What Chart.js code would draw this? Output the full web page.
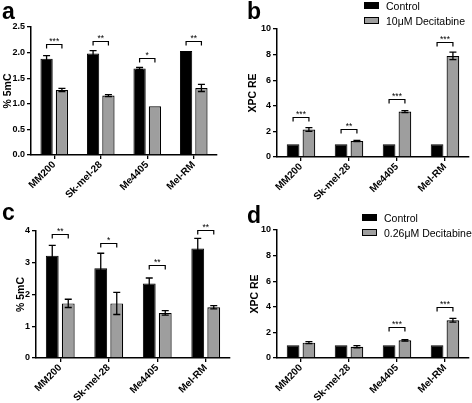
<!DOCTYPE html>
<html>
<head>
<meta charset="utf-8">
<script src="https://cdn.jsdelivr.net/npm/chart.js@4.4.1/dist/chart.umd.min.js"></script>
<style>
  body { margin: 0; background: #fff; width: 472px; height: 403px; position: relative; overflow: hidden;
         font-family: "Liberation Sans", Arial, sans-serif; }
  canvas { position: absolute; }
  .letter { position: absolute; font-weight: bold; font-size: 23px; line-height: 1; }
  .legend { position: absolute; font-size: 10.5px; line-height: 1; }
  .legend div { position: relative; height: 15px; white-space: nowrap; }
  .legend span.sw { position: absolute; left: 0; top: 1px; width: 15px; height: 7px; box-sizing: border-box; }
  .legend span.tx { position: absolute; left: 22px; top: 0; }
</style>
</head>
<body>
<canvas id="chart-a" width="236" height="200" style="left:0;top:0"></canvas>
<canvas id="chart-b" width="236" height="200" style="left:236px;top:0"></canvas>
<canvas id="chart-c" width="236" height="203" style="left:0;top:200px"></canvas>
<canvas id="chart-d" width="236" height="203" style="left:236px;top:200px"></canvas>

<div class="letter" style="left:2px;top:0">a</div>
<div class="letter" style="left:247px;top:0">b</div>
<div class="letter" style="left:2px;top:201px">c</div>
<div class="letter" style="left:247px;top:204px">d</div>

<div class="legend" style="left:364px;top:1px">
  <div><span class="sw" style="background:#000"></span><span class="tx">Control</span></div>
  <div><span class="sw" style="background:#9e9e9e;border:1px solid #000"></span><span class="tx">10μM Decitabine</span></div>
</div>
<div class="legend" style="left:362px;top:213px">
  <div><span class="sw" style="background:#000"></span><span class="tx">Control</span></div>
  <div><span class="sw" style="background:#9e9e9e;border:1px solid #000"></span><span class="tx">0.26μM Decitabine</span></div>
</div>

<script>
/* ─── Data ─────────────────────────────────────────────────────────── */
const cellLines = ['MM200', 'Sk-mel-28', 'Me4405', 'Mel-RM'];

// a — % 5mC, 10µM
const aControl    = [1.88, 1.98, 1.69, 2.03];
const aControlErr = [0.06, 0.06, 0.02, 0.0];
const aDrug       = [1.27, 1.16, 0.95, 1.31];
const aDrugErr    = [0.03, 0.02, 0.0, 0.07];
const aSig        = ['***', '**', '*', '**'];
const aBracket    = [2.17, 2.23, 1.90, 2.23];
const aTicks      = { min: 0, max: 2.5, step: 0.5 };

// b — XPC RE, 10µM
const bControl    = [1, 1, 1, 1];
const bControlErr = [0, 0, 0, 0];
const bDrug       = [2.15, 1.25, 3.55, 7.9];
const bDrugErr    = [0.15, 0.05, 0.08, 0.3];
const bSig        = ['***', '**', '***', '***'];
const bBracket    = [3.1, 2.2, 4.5, 9.0];
const bTicks      = { min: 0, max: 10, step: 2 };

// c — % 5mC, 0.26µM
const cControl    = [3.22, 2.83, 2.35, 3.45];
const cControlErr = [0.33, 0.47, 0.17, 0.32];
const cDrug       = [1.72, 1.72, 1.42, 1.60];
const cDrugErr    = [0.13, 0.35, 0.07, 0.05];
const cSig        = ['**', '*', '**', '**'];
const cBracket    = [3.9, 3.62, 2.93, 4.03];
const cTicks      = { min: 0, max: 4, step: 1 };

// d — XPC RE, 0.26µM
const dControl    = [1, 1, 1, 1];
const dControlErr = [0, 0, 0, 0];
const dDrug       = [1.2, 0.88, 1.38, 2.95];
const dDrugErr    = [0.08, 0.08, 0.06, 0.15];
const dSig        = ['', '', '***', '***'];
const dBracket    = [null, null, 2.4, 4.0];
const dTicks      = { min: 0, max: 10, step: 2 };

const FONT = '"Liberation Sans", Arial, sans-serif';
const GREY = '#9e9e9e';

/* ─── Plugins : barres d'erreur + crochets de significativité ───────── */
const errorBars = {
  id: 'errorBars',
  afterDatasetsDraw(chart) {
    const { ctx } = chart;
    const y = chart.scales.y;
    ctx.save();
    ctx.strokeStyle = '#000';
    ctx.lineWidth = 1.3;
    chart.data.datasets.forEach((ds, i) => {
      const meta = chart.getDatasetMeta(i);
      meta.data.forEach((bar, j) => {
        const err = ds.errors[j];
        if (!err) return;
        const v = ds.data[j];
        const top = y.getPixelForValue(v + err);
        const bot = y.getPixelForValue(v - err);
        const half = 3.5;
        ctx.beginPath();
        ctx.moveTo(bar.x, top); ctx.lineTo(bar.x, bot);
        ctx.moveTo(bar.x - half, top); ctx.lineTo(bar.x + half, top);
        ctx.moveTo(bar.x - half, bot); ctx.lineTo(bar.x + half, bot);
        ctx.stroke();
      });
    });
    ctx.restore();
  }
};

const brackets = {
  id: 'brackets',
  afterDatasetsDraw(chart, args, opts) {
    if (!opts.levels) return;
    const { ctx } = chart;
    const y = chart.scales.y;
    const m0 = chart.getDatasetMeta(0), m1 = chart.getDatasetMeta(1);
    ctx.save();
    ctx.strokeStyle = '#000';
    ctx.fillStyle = '#000';
    ctx.lineWidth = 1.2;
    ctx.font = '8.5px ' + FONT;
    ctx.textAlign = 'center';
    ctx.textBaseline = 'bottom';
    opts.levels.forEach((lvl, j) => {
      if (lvl == null) return;
      const x0 = m0.data[j].x, x1 = m1.data[j].x;
      const py = Math.round(y.getPixelForValue(lvl)) + 0.5;
      ctx.beginPath();
      ctx.moveTo(x0, py + 4); ctx.lineTo(x0, py); ctx.lineTo(x1, py); ctx.lineTo(x1, py + 4);
      ctx.stroke();
      ctx.fillText(opts.labels[j], (x0 + x1) / 2, py + 1);
    });
    ctx.restore();
  }
};

/* ─── Construction d'un panneau ─────────────────────────────────────── */
function panel(id, p) {
  const canvas = document.getElementById(id);
  return new Chart(canvas, {
    type: 'bar',
    data: {
      labels: cellLines,
      datasets: [
        { data: p.control, errors: p.controlErr, backgroundColor: '#000', borderColor: '#000', borderWidth: 1,
          barPercentage: 0.8, categoryPercentage: 0.66 },
        { data: p.drug, errors: p.drugErr, backgroundColor: GREY, borderColor: '#000', borderWidth: 1.2,
          barPercentage: 0.8, categoryPercentage: 0.66 }
      ]
    },
    options: {
      responsive: false,
      animation: false,
      layout: { padding: { top: p.top, right: p.right, left: 0, bottom: 0 } },
      plugins: {
        legend: { display: false },
        tooltip: { enabled: false },
        brackets: { levels: p.bracket, labels: p.sig }
      },
      scales: {
        x: {
          grid: { display: true, offset: false, drawOnChartArea: false, drawTicks: true, tickLength: 4, color: '#000', lineWidth: 1.3 },
          border: { color: '#000', width: 1.5 },
          ticks: { color: '#000', minRotation: 45, maxRotation: 45, padding: 0,
                   font: { family: FONT, size: 10, weight: 'bold' } },
          afterFit: s => { s.height = p.xh; }
        },
        y: {
          min: p.ticks.min, max: p.ticks.max,
          grid: { display: true, drawOnChartArea: false, drawTicks: true, tickLength: 4, color: '#000', lineWidth: 1.3 },
          border: { color: '#000', width: 1.5 },
          ticks: { color: '#000', stepSize: p.ticks.step, padding: 2,
                   font: { family: FONT, size: 9, weight: 'bold' },
                   callback: v => p.ticks.step < 1 ? v.toFixed(1) : v },
          title: { display: true, text: p.title, color: '#000', padding: { top: p.tpad, bottom: 0 },
                   font: { family: FONT, size: 10.5, weight: 'bold' } },
          afterFit: s => { s.width = p.yw; }
        }
      }
    },
    plugins: [errorBars, brackets]
  });
}

panel('chart-a', { control: aControl, controlErr: aControlErr, drug: aDrug, drugErr: aDrugErr,
  sig: aSig, bracket: aBracket, ticks: aTicks, title: '% 5mC', top: 27, right: 19, yw: 31, xh: 45, tpad: 2 });
panel('chart-b', { control: bControl, controlErr: bControlErr, drug: bDrug, drugErr: bDrugErr,
  sig: bSig, bracket: bBracket, ticks: bTicks, title: 'XPC RE', top: 29, right: 3, yw: 41, xh: 43, tpad: 11 });
panel('chart-c', { control: cControl, controlErr: cControlErr, drug: cDrug, drugErr: cDrugErr,
  sig: cSig, bracket: cBracket, ticks: cTicks, title: '% 5mC', top: 31, right: 6, yw: 36, xh: 45, tpad: 15 });
panel('chart-d', { control: dControl, controlErr: dControlErr, drug: dDrug, drugErr: dDrugErr,
  sig: dSig, bracket: dBracket, ticks: dTicks, title: 'XPC RE', top: 30, right: 3, yw: 41, xh: 45, tpad: 13 });
</script>
</body>
</html>
